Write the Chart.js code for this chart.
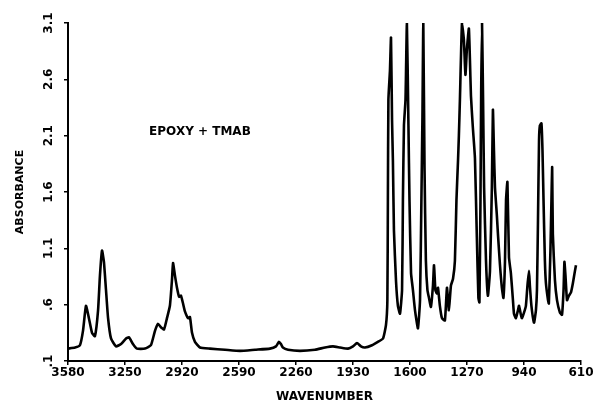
<!DOCTYPE html>
<html>
<head>
<meta charset="utf-8">
<script src="https://cdn.jsdelivr.net/npm/chart.js@4/dist/chart.umd.min.js"></script>
<style>
  html, body { margin: 0; padding: 0; background: #fff; }
  canvas { display: block; }
</style>
</head>
<body>
<canvas id="spectrum" width="604" height="404"></canvas>
<script>
// IR spectrum of the epoxy + TMAB sample (wavenumber in cm-1, absorbance)
const wavenumber = [
  3580, 3539, 3511, 3493, 3476, 3459, 3441, 3424, 3406, 3395, 3383, 3372, 3360, 3348, 3331,
  3302, 3273, 3244, 3227, 3204, 3181, 3134, 3100, 3076, 3059, 3042, 3024, 3007, 2990, 2978,
  2972, 2961, 2949, 2937, 2926, 2914, 2903, 2885, 2874, 2862, 2845, 2816, 2758, 2671, 2584,
  2497, 2411, 2376, 2359, 2347, 2336, 2306, 2237, 2150, 2092, 2046, 2005, 1959, 1930, 1907,
  1884, 1861, 1820, 1786, 1756, 1739, 1731, 1728, 1725, 1716, 1710, 1704, 1699, 1693, 1681,
  1670, 1658, 1646, 1641, 1635, 1626, 1618, 1609, 1603, 1594, 1583, 1571, 1554, 1542, 1534,
  1528, 1523, 1516, 1508, 1499, 1490, 1479, 1467, 1461, 1453, 1444, 1438, 1427, 1415, 1398,
  1386, 1375, 1363, 1351, 1340, 1331, 1322, 1317, 1311, 1299, 1288, 1279, 1271, 1259, 1247,
  1236, 1224, 1213, 1204, 1198, 1192, 1188, 1183, 1177, 1171, 1160, 1149, 1137, 1126, 1120,
  1114, 1108, 1097, 1091, 1079, 1068, 1059, 1050, 1044, 1036, 1027, 1016, 1004, 998, 987,
  975, 969, 958, 952, 940, 929, 920, 911, 906, 897, 882, 871, 865, 859, 853,
  848, 839, 833, 827, 819, 813, 801, 796, 787, 781, 777, 773, 761, 749, 732,
  720, 711, 706, 700, 691, 680, 668, 657, 645, 639
];
const absorbance = [
  0.21, 0.22, 0.24, 0.37, 0.59, 0.48, 0.35, 0.32, 0.55, 0.86, 1.08, 0.98, 0.73, 0.48, 0.30,
  0.23, 0.25, 0.30, 0.31, 0.25, 0.21, 0.21, 0.24, 0.37, 0.43, 0.40, 0.38, 0.48, 0.59, 0.82,
  0.97, 0.86, 0.75, 0.67, 0.68, 0.61, 0.54, 0.48, 0.49, 0.35, 0.27, 0.22, 0.21, 0.20, 0.19,
  0.20, 0.21, 0.23, 0.27, 0.25, 0.22, 0.20, 0.19, 0.20, 0.22, 0.23, 0.22, 0.21, 0.23, 0.26,
  0.23, 0.22, 0.24, 0.27, 0.30, 0.42, 0.64, 1.53, 2.42, 2.68, 2.97, 2.24, 1.88, 1.26, 0.81,
  0.59, 0.52, 0.73, 1.53, 2.19, 2.42, 3.10, 2.19, 1.53, 0.88, 0.73, 0.55, 0.39, 0.64, 1.53,
  2.26, 3.10, 1.82, 0.99, 0.73, 0.66, 0.58, 0.77, 0.95, 0.73, 0.70, 0.75, 0.59, 0.48, 0.46,
  0.75, 0.55, 0.77, 0.83, 0.99, 1.53, 1.88, 2.10, 2.42, 3.10, 2.95, 2.64, 2.86, 3.05, 2.45,
  2.17, 1.90, 1.20, 0.66, 0.62, 1.53, 2.48, 3.10, 2.42, 1.64, 0.99, 0.68, 0.90, 1.64, 2.33,
  1.97, 1.64, 1.39, 1.23, 0.95, 0.75, 0.66, 0.99, 1.53, 1.69, 1.02, 0.88, 0.64, 0.52, 0.48,
  0.55, 0.59, 0.51, 0.48, 0.53, 0.59, 0.77, 0.90, 0.77, 0.59, 0.44, 0.55, 0.73, 1.35, 2.06,
  2.19, 2.21, 1.97, 1.53, 0.99, 0.79, 0.64, 0.61, 1.08, 1.53, 1.82, 1.23, 0.82, 0.64, 0.53,
  0.51, 0.73, 0.98, 0.86, 0.64, 0.68, 0.71, 0.79, 0.90, 0.95
];

// Axis tick values
const xTickValues = [3580, 3250, 2920, 2590, 2260, 1930, 1600, 1270, 940, 610];
const yTickValues = [0.1, 0.6, 1.1, 1.6, 2.1, 2.6, 3.1];

// Text
const sampleName = 'EPOXY + TMAB';
const sampleNameAt = { wn: 2816, abs: 2.13 };
const xTitle = 'WAVENUMBER';
const yTitle = 'ABSORBANCE';

const points = wavenumber.map((w, i) => ({ x: w, y: absorbance[i] }));

const FONT = '"DejaVu Sans", "Liberation Sans", sans-serif';

// absorbance labels are written without the leading zero (".6", ".1")
const fmtAbs = v => {
  const s = v.toFixed(1);
  return s.startsWith('0') ? s.slice(1) : s;
};

// Vertical (rotated) absorbance tick labels and the sample caption
const overlay = {
  id: 'overlay',
  afterDraw(chart) {
    const { ctx } = chart;
    const xs = chart.scales.x, ys = chart.scales.y;
    ctx.save();
    ctx.fillStyle = '#000';
    ctx.font = 'bold 12px ' + FONT;
    ctx.textAlign = 'center';
    ctx.textBaseline = 'middle';
    ys.ticks.forEach(t => {
      const py = ys.getPixelForValue(t.value);
      ctx.save();
      ctx.translate(49, py);
      ctx.rotate(-Math.PI / 2);
      ctx.fillText(fmtAbs(t.value), 0, 0);
      ctx.restore();
    });
    ctx.fillText(sampleName, xs.getPixelForValue(sampleNameAt.wn), ys.getPixelForValue(sampleNameAt.abs));
    ctx.restore();
  }
};

new Chart(document.getElementById('spectrum'), {
  type: 'line',
  data: {
    datasets: [{
      data: points,
      borderColor: '#000',
      borderWidth: 2.6,
      pointRadius: 0,
      tension: 0.15,
      fill: false
    }]
  },
  options: {
    responsive: false,
    animation: false,
    devicePixelRatio: 1,
    layout: { padding: { left: 0, right: 23, top: 23, bottom: 0 } },
    plugins: { legend: { display: false }, tooltip: { enabled: false } },
    scales: {
      x: {
        type: 'linear',
        reverse: true,
        min: 610,
        max: 3580,
        afterBuildTicks: s => { s.ticks = xTickValues.map(v => ({ value: v })); },
        afterFit: s => { s.height = 43; },
        border: { display: true, color: '#000', width: 2 },
        grid: { display: true, drawOnChartArea: false, drawTicks: true, tickLength: 4, color: '#000', lineWidth: 1.5 },
        ticks: {
          color: '#000',
          font: { family: FONT, size: 12, weight: 'bold' },
          padding: 1,
          maxRotation: 0,
          autoSkip: false,
          callback: v => String(v)
        },
        title: {
          display: true,
          text: xTitle,
          color: '#000',
          font: { family: FONT, size: 12, weight: 'bold' },
          padding: { top: 0, bottom: 0 }
        }
      },
      y: {
        type: 'linear',
        min: 0.1,
        max: 3.1,
        afterBuildTicks: s => { s.ticks = yTickValues.map(v => ({ value: v })); },
        afterFit: s => { s.width = 68; },
        border: { display: true, color: '#000', width: 2 },
        grid: { display: true, drawOnChartArea: false, drawTicks: true, tickLength: 4, color: '#000', lineWidth: 1.5 },
        ticks: { display: false },
        title: {
          display: true,
          text: yTitle,
          color: '#000',
          font: { family: FONT, size: 11, weight: 'bold' },
          padding: { top: 14, bottom: 0 }
        }
      }
    }
  },
  plugins: [overlay]
});
</script>
</body>
</html>
